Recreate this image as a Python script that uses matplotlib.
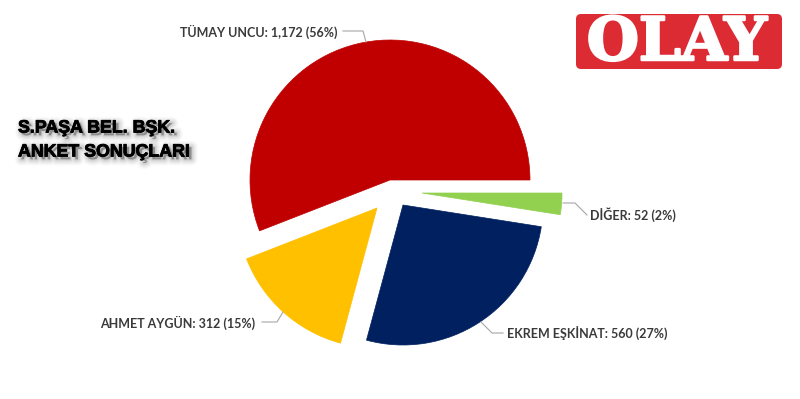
import matplotlib
matplotlib.use("Agg")
import matplotlib.pyplot as plt
import matplotlib.patheffects as pe
from matplotlib.patches import FancyBboxPatch

# Survey results
candidates = ["TÜMAY UNCU", "AHMET AYGÜN", "EKREM EŞKİNAT", "DİĞER"]
votes = [1172, 312, 560, 52]
shares = [56, 15, 27, 2]
colors = ["#C00000", "#FFC000", "#002060", "#92D050"]

title_lines = ["S.PAŞA BEL. BŞK.", "ANKET SONUÇLARI"]
logo_text = "OLAY"

W, H = 800, 399
fig = plt.figure(figsize=(W / 100, H / 100), dpi=100)
ax = fig.add_axes([0, 0, 1, 1])

# Pie (pixel-space axes with y pointing down, so clockwise in data = counterclockwise on screen)
center = (390, 180)
radius = 140
wedges, _ = ax.pie(votes, colors=colors, startangle=0, counterclock=False,
                   center=center, radius=radius, frame=True)
ax.set_xlim(0, W)
ax.set_ylim(H, 0)
ax.set_aspect("equal")
ax.axis("off")

# Pulled-out slices
offsets = [(0, 0), (-13, 28), (13, 25), (32, 13)]
for w, (dx, dy) in zip(wedges, offsets):
    w.set_center((center[0] + dx, center[1] + dy))
    w.set_edgecolor(w.get_facecolor())
    w.set_linewidth(0.5)

label_font = dict(family="Lato", weight="bold", color="#3a3a3a", fontsize=9.0)
lead = dict(color="#A6A6A6", lw=0.8)

labels = [f"{n}: {v:,} ({s}%)" for n, v, s in zip(candidates, votes, shares)]

# Label positions and leader lines
ax.text(338, 32, labels[0], ha="right", va="center", **label_font)
ax.plot([343, 363, 366], [31, 31, 42], **lead)

ax.text(255, 323, labels[1], ha="right", va="center", **label_font)
ax.plot([262, 277, 283], [322, 322, 312], **lead)

ax.text(507, 333, labels[2], ha="left", va="center", **label_font)
ax.plot([481, 492, 503], [322, 333, 333], **lead)

ax.text(590, 215, labels[3], ha="left", va="center", **label_font)
ax.plot([563, 575, 587], [203, 203, 215], **lead)

# Title with soft, blurred drop shadow
shadow = [pe.Stroke(linewidth=lw, foreground="#707070", alpha=a, offset=(2, -2))
          for lw, a in [(9, 0.04), (7, 0.06), (5, 0.08), (3, 0.1), (1.5, 0.12)]]
shadow.append(pe.Stroke(linewidth=0.6, foreground="#000000"))
shadow.append(pe.Normal())
for txt, y in zip(title_lines, [128, 152]):
    ax.text(18, y, txt, ha="left", va="center", family="Liberation Sans",
            weight="bold", fontsize=12.8, color="#000000", path_effects=shadow)

# Newspaper logo
logo = FancyBboxPatch((576, 14), 206, 55, boxstyle="round,pad=0,rounding_size=5",
                      facecolor="#DD2B33", edgecolor="none")
ax.add_patch(logo)
ax.text(677, 43, logo_text, ha="center", va="center", family="DejaVu Serif",
        weight="bold", fontsize=43, color="white",
        path_effects=[pe.withStroke(linewidth=1.8, foreground="white")])

fig.savefig("out.png", dpi=100, facecolor="white")
